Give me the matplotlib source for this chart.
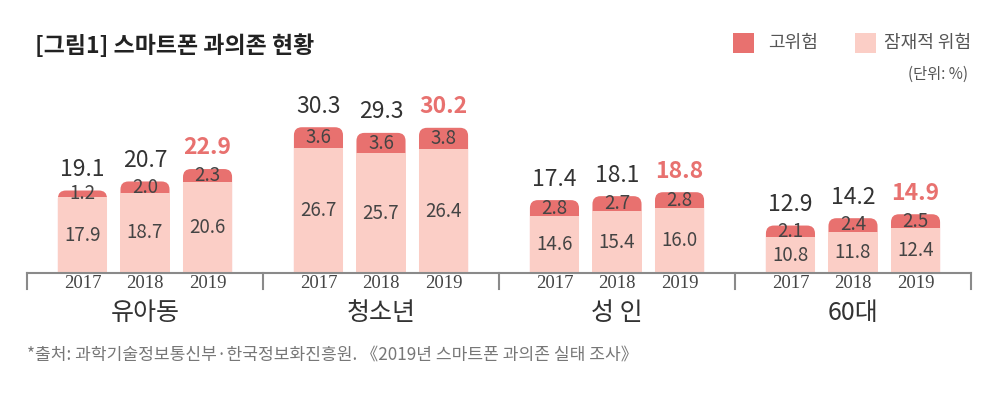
import matplotlib
matplotlib.use("Agg")
import matplotlib.pyplot as plt
from matplotlib.patches import FancyBboxPatch, Rectangle

# data
groups = ["유아동", "청소년", "성 인", "60대"]
years = ["2017", "2018", "2019"]
potential = [[17.9, 18.7, 20.6], [26.7, 25.7, 26.4], [14.6, 15.4, 16.0], [10.8, 11.8, 12.4]]
high = [[1.2, 2.0, 2.3], [3.6, 3.6, 3.8], [2.8, 2.7, 2.8], [2.1, 2.4, 2.5]]
totals = [[19.1, 20.7, 22.9], [30.3, 29.3, 30.2], [17.4, 18.1, 18.8], [12.9, 14.2, 14.9]]

RED = "#E8716F"
PINK = "#FBCEC6"
KR = ["Noto Sans CJK KR", "DejaVu Sans"]

W, H = 1007, 397
fig = plt.figure(figsize=(W / 100, H / 100), dpi=100)

# axes in pixel terms: x 27..971, baseline at y=273, top at y=100
ax_l, ax_r, ax_b, ax_t = 27, 971, 273, 100
ax = fig.add_axes([ax_l / W, (H - ax_b) / H, (ax_r - ax_l) / W, (ax_b - ax_t) / H])
ymin, scale = 4.5, 5.65   # value offset, px per unit
ax.set_xlim(-0.5, 3.5)
ax.set_ylim(ymin, ymin + (ax_b - ax_t) / scale)
ax.axis("off")

px_x = (ax_r - ax_l) / 4.0
aspect = px_x / scale
bw = 0.208
off = 0.265
r = 8 / px_x

for g in range(4):
    for i in range(3):
        x = g + (i - 1) * off
        p = potential[g][i]
        h = high[g][i]
        t = totals[g][i]
        top = FancyBboxPatch((x - bw / 2, 0), bw, p + h,
                             boxstyle="round,pad=0,rounding_size=%f" % r,
                             mutation_aspect=aspect, fc=RED, ec="none", zorder=2)
        ax.add_patch(top)
        ax.add_patch(Rectangle((x - bw / 2, 0), bw, p, fc=PINK, ec="none", zorder=3))
        ax.text(x, (ymin + p) / 2, "%.1f" % p, ha="center", va="center",
                fontsize=13.5, color="#444444", family=KR, fontweight="light", zorder=4)
        ax.text(x, p + h / 2, "%.1f" % h, ha="center", va="center",
                fontsize=13.5, color="#444444", family=KR, fontweight="light", zorder=4)
        if i == 2:
            ax.annotate("%.1f" % t, (x, p + h), xytext=(0, 10.5), textcoords="offset points",
                        ha="center", va="baseline", fontsize=16.5, color=RED,
                        fontweight="bold", family=KR)
        else:
            ax.annotate("%.1f" % t, (x, p + h), xytext=(0, 10.5), textcoords="offset points",
                        ha="center", va="baseline", fontsize=16.5, color="#333333", family=KR)
        ax.text(x, -10 / (ax_b - ax_t), years[i], transform=ax.get_xaxis_transform(),
                ha="center", va="center", fontsize=13.5, color="#444444",
                family="Liberation Serif", clip_on=False)
    ax.text(g, -40 / (ax_b - ax_t), groups[g], transform=ax.get_xaxis_transform(),
            ha="center", va="center", fontsize=18, color="#333333",
            family=KR, fontweight="medium", clip_on=False)

# baseline and separators
trans = ax.get_xaxis_transform()
ax.plot([-0.5, 3.5], [0, 0], color="#8a8a8a", lw=1.5, transform=trans, clip_on=False, zorder=5)
for s in [-0.5, 0.5, 1.5, 2.5, 3.5]:
    ax.plot([s, s], [0, -16 / (ax_b - ax_t)], color="#8a8a8a", lw=1.5,
            transform=trans, clip_on=False, zorder=5)

# title, legend, notes
def fx(px):
    return px / W

def fy(py):
    return 1 - py / H

fig.text(fx(35), fy(46), "[그림1] 스마트폰 과의존 현황", ha="left", va="center",
         fontsize=16.5, fontweight="bold", color="#222222", family=KR)

fig.patches.append(Rectangle((fx(733), fy(53)), 21 / W, 20 / H, fc=RED, ec="none",
                             transform=fig.transFigure, figure=fig))
fig.text(fx(768), fy(43), "고위험", ha="left", va="center", fontsize=13, color="#555555", family=KR)
fig.patches.append(Rectangle((fx(855), fy(53)), 21 / W, 20 / H, fc=PINK, ec="none",
                             transform=fig.transFigure, figure=fig))
fig.text(fx(884), fy(43), "잠재적 위험", ha="left", va="center", fontsize=13, color="#555555", family=KR)
fig.text(fx(968), fy(74), "(단위: %)", ha="right", va="center", fontsize=11, color="#555555", family=KR)

fig.text(fx(27), fy(355), "*출처: 과학기술정보통신부·한국정보화진흥원. 《2019년 스마트폰 과의존 실태 조사》",
         ha="left", va="center", fontsize=12.3, color="#777777", family=KR)

fig.savefig("out.png", dpi=100, facecolor="white")
